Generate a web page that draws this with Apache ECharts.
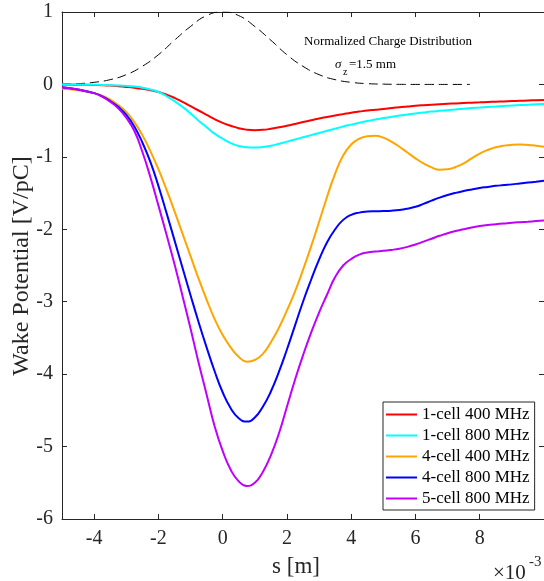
<!DOCTYPE html>
<html>
<head>
<meta charset="utf-8">
<script src="https://cdn.jsdelivr.net/npm/echarts@6/dist/echarts.min.js"></script>
<style>
html,body{margin:0;padding:0;background:#fff;}
#chart{width:544px;height:581px;}
</style>
</head>
<body>
<div id="chart"></div>
<script>
// s in units of 1e-3 m
var sValues = [-5,-4.5,-4,-3.75,-3.5,-3.25,-3,-2.75,-2.5,-2.25,-2,-1.75,-1.5,-1.25,-1,-0.75,-0.5,-0.25,0,0.25,0.5,0.75,1,1.25,1.5,1.75,2,2.25,2.5,2.75,3,3.25,3.5,3.75,4,4.25,4.5,4.75,5,5.25,5.5,5.75,6,6.25,6.5,6.75,7,7.25,7.5,7.75,8,8.25,8.5,8.75,9,9.25,9.5,9.75,10];
var cell1_400 = [0,-0.003,-0.008,-0.011,-0.016,-0.024,-0.034,-0.046,-0.061,-0.08,-0.105,-0.14,-0.185,-0.24,-0.30,-0.36,-0.42,-0.48,-0.53,-0.57,-0.605,-0.625,-0.632,-0.627,-0.612,-0.592,-0.57,-0.545,-0.52,-0.495,-0.47,-0.45,-0.43,-0.41,-0.39,-0.375,-0.36,-0.35,-0.34,-0.327,-0.315,-0.305,-0.295,-0.287,-0.28,-0.274,-0.268,-0.262,-0.257,-0.252,-0.247,-0.242,-0.238,-0.234,-0.23,-0.226,-0.222,-0.218,-0.215];
var cell1_800 = [0,-0.002,-0.005,-0.007,-0.01,-0.014,-0.02,-0.03,-0.045,-0.07,-0.105,-0.16,-0.23,-0.31,-0.40,-0.5,-0.59,-0.68,-0.75,-0.81,-0.85,-0.868,-0.872,-0.864,-0.846,-0.82,-0.79,-0.76,-0.73,-0.70,-0.67,-0.64,-0.61,-0.58,-0.555,-0.53,-0.505,-0.485,-0.465,-0.447,-0.43,-0.415,-0.40,-0.387,-0.375,-0.365,-0.355,-0.345,-0.335,-0.327,-0.32,-0.312,-0.305,-0.297,-0.29,-0.285,-0.28,-0.275,-0.27];
var cell4_400 = [-0.06,-0.08,-0.12,-0.155,-0.21,-0.285,-0.38,-0.52,-0.7,-0.92,-1.17,-1.45,-1.75,-2.06,-2.37,-2.68,-2.97,-3.24,-3.46,-3.63,-3.76,-3.828,-3.805,-3.72,-3.56,-3.36,-3.12,-2.86,-2.56,-2.24,-1.9,-1.55,-1.23,-0.98,-0.83,-0.75,-0.715,-0.708,-0.735,-0.79,-0.86,-0.94,-1.02,-1.09,-1.145,-1.178,-1.172,-1.14,-1.09,-1.02,-0.955,-0.905,-0.868,-0.845,-0.834,-0.831,-0.836,-0.846,-0.86];
var cell4_800 = [-0.04,-0.07,-0.12,-0.165,-0.23,-0.31,-0.42,-0.58,-0.8,-1.07,-1.4,-1.77,-2.15,-2.53,-2.91,-3.28,-3.63,-3.96,-4.25,-4.47,-4.61,-4.655,-4.6,-4.45,-4.24,-3.97,-3.66,-3.33,-3.0,-2.7,-2.42,-2.18,-2.0,-1.87,-1.8,-1.77,-1.756,-1.751,-1.748,-1.743,-1.733,-1.715,-1.69,-1.65,-1.605,-1.563,-1.527,-1.497,-1.472,-1.45,-1.43,-1.415,-1.40,-1.39,-1.38,-1.367,-1.355,-1.343,-1.33];
var cell5_800 = [-0.04,-0.07,-0.12,-0.17,-0.24,-0.33,-0.46,-0.64,-0.93,-1.28,-1.67,-2.07,-2.48,-2.92,-3.37,-3.84,-4.28,-4.72,-5.06,-5.32,-5.48,-5.545,-5.5,-5.35,-5.12,-4.82,-4.45,-4.08,-3.74,-3.43,-3.15,-2.9,-2.66,-2.5,-2.41,-2.35,-2.32,-2.306,-2.298,-2.285,-2.268,-2.243,-2.21,-2.17,-2.13,-2.09,-2.054,-2.025,-2.0,-1.975,-1.955,-1.94,-1.93,-1.92,-1.91,-1.902,-1.895,-1.887,-1.88];
var chargeS = [-5,-4.5,-4,-3.5,-3,-2.5,-2,-1.5,-1,-0.5,0,0.5,1,1.5,2,2.5,3,3.5,4,4.5,5,5.5,6,6.5,7,7.7];
var chargeValues = [0.004,0.011,0.029,0.066,0.135,0.25,0.41,0.61,0.8,0.95,1.0,0.95,0.8,0.61,0.41,0.25,0.135,0.066,0.029,0.011,0.004,0.001,0,0,0,0];
var seriesNames = ['1-cell 400 MHz','1-cell 800 MHz','4-cell 400 MHz','4-cell 800 MHz','5-cell 800 MHz'];
var seriesColors = ['#FF0000','#00FFFF','#FFA500','#0000FF','#BF00FF'];
var xTicks = [-4,-2,0,2,4,6,8];

function pairs(xs, ys){ return xs.map(function(x,i){ return [x, ys[i]]; }); }

var FONT = 'Liberation Serif, Times New Roman, serif';
var INK = '#262626';
var chart = echarts.init(document.getElementById('chart'));
var wake = [cell1_400, cell1_800, cell4_400, cell4_800, cell5_800];

var series = [{
  name: 'charge', type: 'line', data: pairs(chargeS, chargeValues), smooth: true,
  symbol: 'none', lineStyle: {color: '#000', width: 1, type: [9, 5]}, silent: true, z: 1
}];
wake.forEach(function(v, i){
  series.push({
    name: seriesNames[i], type: 'line', data: pairs(sValues, v), smooth: true,
    symbol: 'none', color: seriesColors[i],
    lineStyle: {color: seriesColors[i], width: 2}, z: 2 + i
  });
});

var axisCommon = {
  axisLine: {show: true, onZero: false, lineStyle: {color: INK, width: 1}},
  splitLine: {show: false}
};

chart.setOption({
  animation: false,
  backgroundColor: '#fff',
  grid: {left: 62, right: 0, top: 12, bottom: 62},
  xAxis: [
    Object.assign({type: 'value', min: -5, max: 10, position: 'bottom',
      axisTick: {show: true, inside: true, length: 5, customValues: xTicks, lineStyle: {color: INK}},
      axisLabel: {customValues: xTicks, color: INK, fontFamily: FONT, fontSize: 20, margin: 10}
    }, axisCommon),
    Object.assign({type: 'value', min: -5, max: 10, position: 'top',
      axisTick: {show: true, inside: true, length: 5, customValues: xTicks, lineStyle: {color: INK}},
      axisLabel: {show: false}
    }, axisCommon)
  ],
  yAxis: [
    Object.assign({type: 'value', min: -6, max: 1, interval: 1, position: 'left',
      axisTick: {show: true, inside: true, length: 5, lineStyle: {color: INK}},
      axisLabel: {color: INK, fontFamily: FONT, fontSize: 20, margin: 9}
    }, axisCommon),
    Object.assign({type: 'value', min: -6, max: 1, interval: 1, position: 'right',
      axisTick: {show: true, inside: true, length: 5, lineStyle: {color: INK}},
      axisLabel: {show: false}
    }, axisCommon)
  ],
  legend: {
    data: seriesNames, orient: 'vertical', left: 383, top: 402,
    padding: [4, 5, 3, 3], itemGap: 4, itemWidth: 31, itemHeight: 2, icon: 'rect',
    backgroundColor: '#fff', borderColor: INK, borderWidth: 1,
    textStyle: {fontFamily: FONT, fontSize: 17, color: '#000', lineHeight: 17}
  },
  graphic: [
    {type: 'text', x: 388, y: 42, style: {text: 'Normalized Charge Distribution', font: '13px ' + FONT, fill: '#000', textAlign: 'center', textVerticalAlign: 'middle'}},
    {type: 'text', x: 335, y: 65, style: {text: 'σ', font: 'italic 13px ' + FONT, fill: '#000', textAlign: 'left', textVerticalAlign: 'middle'}},
    {type: 'text', x: 343, y: 72, style: {text: 'z', font: '10px ' + FONT, fill: '#000', textAlign: 'left', textVerticalAlign: 'middle'}},
    {type: 'text', x: 349, y: 65, style: {text: '=1.5 mm', font: '13px ' + FONT, fill: '#000', textAlign: 'left', textVerticalAlign: 'middle'}},
    {type: 'text', x: 22, y: 266, rotation: Math.PI / 2, style: {text: 'Wake Potential [V/pC]', font: '24px ' + FONT, fill: INK, textAlign: 'center', textVerticalAlign: 'middle'}},
    {type: 'text', x: 296, y: 567, style: {text: 's [m]', font: '23px ' + FONT, fill: INK, textAlign: 'center', textVerticalAlign: 'middle'}},
    {type: 'text', x: 493, y: 573, style: {text: '×10', font: '21px ' + FONT, fill: INK, textAlign: 'left', textVerticalAlign: 'middle'}},
    {type: 'text', x: 529, y: 562, style: {text: '-3', font: '15px ' + FONT, fill: INK, textAlign: 'left', textVerticalAlign: 'middle'}}
  ],
  series: series
});
</script>
</body>
</html>
